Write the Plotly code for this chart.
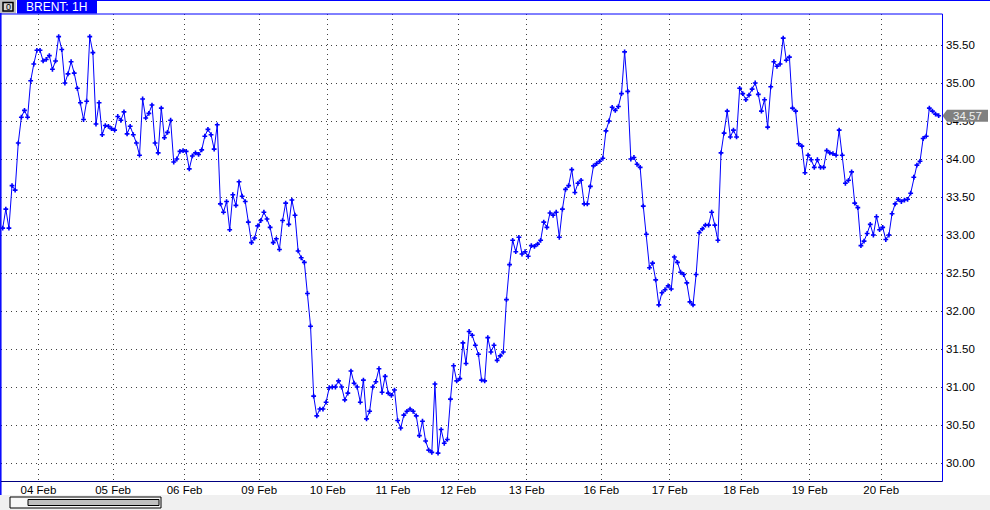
import plotly.graph_objects as go

# ---------------- data ----------------
day_labels = ["03 Feb", "04 Feb", "05 Feb", "06 Feb", "09 Feb", "10 Feb", "11 Feb",
              "12 Feb", "13 Feb", "16 Feb", "17 Feb", "18 Feb", "19 Feb", "20 Feb"]

feb03 = [33.09, 33.34, 33.09, 33.65, 33.59, 34.21, 34.55, 34.64, 34.55, 35.03, 35.25, 35.43]
feb04 = [35.43, 35.29, 35.31, 35.36, 35.18, 35.29, 35.61, 35.44, 35.00, 35.12, 35.28, 35.13,
         34.93, 34.74, 34.52, 34.76, 35.61, 35.40, 34.46, 34.74, 34.32, 34.44, 34.43, 34.40]
feb05 = [34.38, 34.56, 34.51, 34.62, 34.33, 34.43, 34.32, 34.21, 34.05, 34.79, 34.54, 34.60,
         34.71, 34.21, 34.08, 34.67, 34.28, 34.35, 34.51, 33.96, 34.00, 34.10, 34.11]
feb06 = [34.10, 33.87, 34.04, 34.08, 34.06, 34.12, 34.30, 34.39, 34.32, 34.13, 34.45, 33.41,
         33.30, 33.44, 33.07, 33.53, 33.39, 33.70, 33.51, 33.44, 33.17, 32.90, 32.96, 33.12]
feb09 = [33.19, 33.30, 33.21, 33.10, 32.90, 32.95, 32.81, 33.19, 33.42, 33.14, 33.46, 33.26,
         32.79, 32.70, 32.64, 32.23, 31.80, 30.88, 30.62, 30.71, 30.71, 30.80]
feb10 = [30.99, 31.00, 31.00, 31.08, 31.00, 30.83, 30.92, 31.21, 31.05, 31.00, 30.80, 31.09,
         30.58, 30.68, 31.00, 31.07, 31.24, 30.93, 31.14, 30.92, 30.89]
feb11 = [30.96, 30.56, 30.46, 30.63, 30.68, 30.71, 30.68, 30.62, 30.36, 30.55, 30.29, 30.17,
         30.14, 31.04, 30.13, 30.44, 30.26, 30.31, 30.84, 31.28, 31.08]
feb12 = [31.11, 31.58, 31.31, 31.73, 31.68, 31.55, 31.43, 31.09, 31.08, 31.65, 31.46, 31.55,
         31.35, 31.41, 31.46, 32.15, 32.61, 32.93, 32.78, 32.97, 32.75, 32.78]
feb13 = [32.72, 32.86, 32.85, 32.88, 32.93, 33.17, 33.10, 33.29, 33.26, 33.30, 32.97, 33.34,
         33.60, 33.65, 33.86, 33.56, 33.68, 33.72, 33.41, 33.41, 33.64, 33.91, 33.94, 33.97]
feb16 = [34.01, 34.37, 34.50, 34.68, 34.64, 34.69, 34.86, 35.41, 34.89, 34.00, 34.02, 33.93,
         33.89, 33.38, 33.01, 32.57, 32.63, 32.41, 32.08, 32.24, 32.28, 32.33]
feb17 = [32.29, 32.71, 32.64, 32.51, 32.48, 32.37, 32.12, 32.08, 32.48, 33.03, 33.08, 33.13,
         33.13, 33.30, 33.13, 32.93, 34.08, 34.34, 34.63, 34.29, 34.38, 34.29, 34.93]
feb18 = [34.86, 34.78, 34.84, 34.92, 35.00, 34.85, 34.63, 34.78, 34.42, 34.95, 35.28, 35.22,
         35.25, 35.59, 35.30, 35.34, 34.67, 34.63, 34.20, 34.17, 33.82, 34.05]
feb19 = [33.99, 33.89, 33.99, 33.89, 33.89, 34.11, 34.08, 34.07, 34.05, 34.38, 34.05, 33.68,
         33.72, 33.83, 33.42, 33.36, 32.86, 32.92, 33.02, 33.14, 33.00, 33.24, 33.07]
feb20 = [33.10, 32.94, 33.00, 33.28, 33.41, 33.47, 33.44, 33.46, 33.47, 33.55, 33.76, 33.92,
         33.97, 34.27, 34.30, 34.67, 34.63, 34.59, 34.57]

y_ticks = [30.0, 30.5, 31.0, 31.5, 32.0, 32.5, 33.0, 33.5, 34.0, 34.5, 35.0, 35.5]
title_text = "BRENT: 1H"

# ---------------- build ----------------
days = [feb03, feb04, feb05, feb06, feb09, feb10, feb11, feb12, feb13,
        feb16, feb17, feb18, feb19, feb20]
values = [v for d in days for v in d]
xs = list(range(len(values)))
starts = []
acc = 0
for d in days:
    starts.append(acc)
    acc += len(d)
tickvals = [s - 0.5 for s in starts[1:]]
ticktext = day_labels[1:]
last = values[-1]

W, H = 990, 510
L, R, T, B = 1, 48, 14, 29
PW, PH = W - L - R, H - T - B


def px(xp):
    return (xp - L) / PW


def py(yp):
    return (H - B - yp) / PH


BLUE = "#0000ff"
font = "Liberation Sans, Arial, sans-serif"

fig = go.Figure()
fig.add_trace(go.Scatter(
    x=xs, y=values, mode="lines+markers",
    line=dict(color=BLUE, width=1),
    marker=dict(symbol="cross", size=4, color=BLUE, line=dict(width=0)),
    hoverinfo="skip", showlegend=False,
))

shapes = []
# bottom grey strip
shapes.append(dict(type="rect", xref="paper", yref="paper", x0=px(0), x1=px(W), y0=py(495), y1=py(H),
                   fillcolor="#f0f0f0", line=dict(width=0), layer="below"))
# scrollbar
shapes.append(dict(type="rect", xref="paper", yref="paper", x0=px(10), x1=px(161), y0=py(497), y1=py(508),
                   fillcolor="#f8f8f8", line=dict(color="#000000", width=1)))
shapes.append(dict(type="rect", xref="paper", yref="paper", x0=px(28), x1=px(159), y0=py(499.5), y1=py(505.5),
                   fillcolor="#c0c0c0", line=dict(color="#000000", width=1)))
# header
shapes.append(dict(type="line", xref="paper", yref="paper", x0=px(97), x1=px(W), y0=py(0.5), y1=py(0.5),
                   line=dict(color=BLUE, width=1)))
shapes.append(dict(type="rect", xref="paper", yref="paper", x0=px(17), x1=px(97), y0=py(0), y1=py(13.5),
                   fillcolor=BLUE, line=dict(width=0)))
shapes.append(dict(type="rect", xref="paper", yref="paper", x0=px(0), x1=px(16), y0=py(0), y1=py(13.5),
                   fillcolor="#c0c0c0", line=dict(width=0)))
shapes.append(dict(type="rect", xref="paper", yref="paper", x0=px(3), x1=px(13), y0=py(2.5), y1=py(11),
                   fillcolor="#d8d8d8", line=dict(color="#000000", width=1.5)))
# frame
shapes.append(dict(type="line", xref="paper", yref="paper", x0=px(1), x1=px(942.5), y0=py(14), y1=py(14),
                   line=dict(color=BLUE, width=1)))
shapes.append(dict(type="line", xref="paper", yref="paper", x0=px(0.8), x1=px(0.8), y0=py(13), y1=py(495),
                   line=dict(color=BLUE, width=1.5)))
shapes.append(dict(type="line", xref="paper", yref="paper", x0=px(942.5), x1=px(942.5), y0=py(14), y1=py(481.5),
                   line=dict(color=BLUE, width=1)))
shapes.append(dict(type="line", xref="paper", yref="paper", x0=px(1), x1=px(942.5), y0=py(481.5), y1=py(481.5),
                   line=dict(color="#000080", width=1)))
# last value marker box
dy = 6.0 / 76
shapes.append(dict(
    type="path", xref="paper", yref="y",
    path=(f"M {px(947)},{last + dy} L {px(988)},{last + dy} L {px(988)},{last - dy} "
          f"L {px(947)},{last - dy} L {px(942.5)},{last} Z"),
    fillcolor="#808080", line=dict(width=0), layer="above"))

annotations = [
    dict(text=title_text, xref="paper", yref="paper", x=px(24), y=py(7), xanchor="left", yanchor="middle",
         showarrow=False, font=dict(family=font, size=12, color="#ffffff")),
    dict(text="0", xref="paper", yref="paper", x=px(8), y=py(7), xanchor="center", yanchor="middle",
         showarrow=False, font=dict(family=font, size=9, color="#000000")),
    dict(text=f"{last:.2f}", xref="paper", yref="y", x=px(967), y=last, xanchor="center", yanchor="middle",
         showarrow=False, font=dict(family=font, size=11.5, color="#f0f0f0")),
]

fig.update_layout(
    width=W, height=H,
    margin=dict(l=L, r=R, t=T, b=B, pad=0),
    paper_bgcolor="#ffffff", plot_bgcolor="#ffffff",
    shapes=shapes, annotations=annotations,
    font=dict(family=font, size=11.5, color="#000000"),
    xaxis=dict(
        range=[-0.547, 302.07], tickmode="array", tickvals=tickvals, ticktext=ticktext,
        showgrid=True, gridcolor="#404040", gridwidth=1, griddash="1px,4px",
        zeroline=False, showline=False, ticks="", tickfont=dict(family=font, size=11.5, color="#000000"),
        fixedrange=True,
    ),
    yaxis=dict(
        range=[30 - 18 / 76, 30 + 449 / 76], side="right", tickmode="array", tickvals=y_ticks,
        ticktext=[f"{v:.2f}" for v in y_ticks], ticklabelstandoff=3,
        showgrid=True, gridcolor="#404040", gridwidth=1, griddash="1px,4px",
        zeroline=False, showline=False, ticks="", tickfont=dict(family=font, size=11.5, color="#000000"),
        fixedrange=True,
    ),
)

fig.write_html(
    "out.html",
    config={"displayModeBar": False, "staticPlot": True},
    post_script="document.body.style.margin='0';document.body.style.overflow='hidden';",
)
